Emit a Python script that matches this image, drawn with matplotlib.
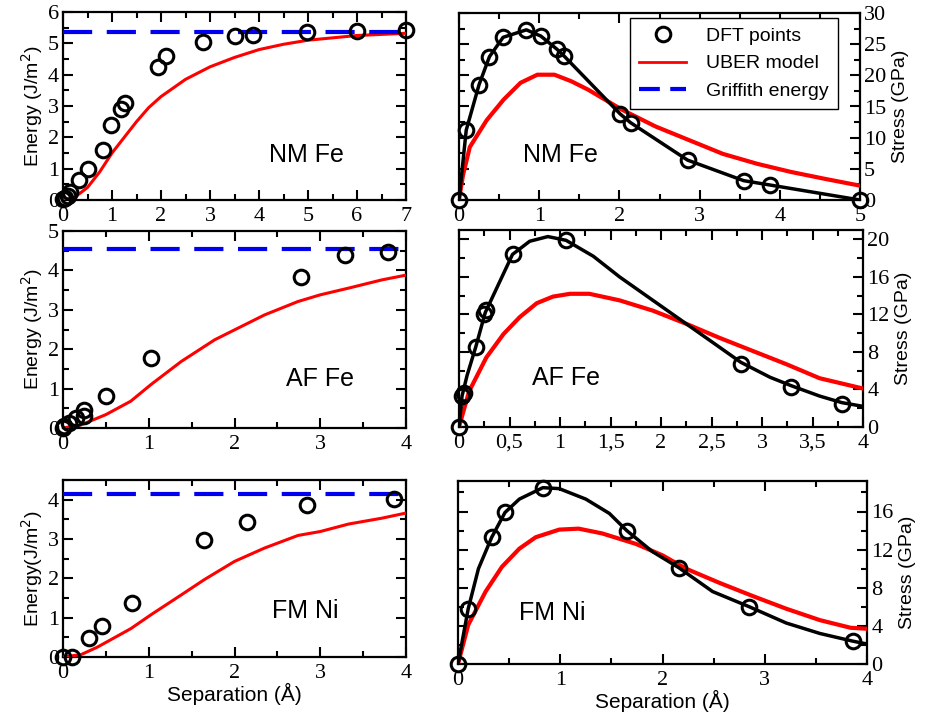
import matplotlib
matplotlib.use("Agg")
import matplotlib.pyplot as plt
from matplotlib.ticker import MultipleLocator, FuncFormatter
from matplotlib.lines import Line2D

# ---------------- data ----------------
# NM Fe
nm_e_x = [0.0, 0.05, 0.1, 0.15, 0.33, 0.5, 0.81, 0.98, 1.19, 1.26, 1.94, 2.11, 2.85, 3.51, 3.87, 4.98, 5.99, 6.99]
nm_e_y = [0.02, 0.05, 0.12, 0.25, 0.64, 1.0, 1.6, 2.4, 2.9, 3.1, 4.25, 4.6, 5.05, 5.23, 5.27, 5.35, 5.4, 5.42]
nm_uber_e_x = [0, 0.25, 0.5, 0.75, 1.0, 1.25, 1.5, 1.75, 2.0, 2.5, 3.0, 3.5, 4.0, 4.5, 5.0, 6.0, 7.0]
nm_uber_e_y = [0, 0.1, 0.4, 0.9, 1.5, 2.0, 2.5, 2.95, 3.3, 3.85, 4.25, 4.55, 4.8, 4.97, 5.1, 5.25, 5.32]
nm_griffith = 5.35
nm_s_x = [0.0, 0.09, 0.25, 0.38, 0.55, 0.84, 1.02, 1.22, 1.31, 2.01, 2.14, 2.85, 3.55, 3.88, 5.0]
nm_s_y = [0.0, 11.2, 18.5, 23.0, 26.1, 27.3, 26.3, 24.2, 23.1, 13.8, 12.4, 6.4, 3.1, 2.4, 0.0]
nm_uber_s_x = [0, 0.05, 0.135, 0.345, 0.556, 0.767, 0.977, 1.19, 1.40, 1.61, 1.82, 2.03, 2.45, 2.87, 3.29, 3.72, 4.14, 4.56, 5.0]
nm_uber_s_y = [0, 4.0, 8.5, 12.8, 16.1, 18.8, 20.1, 20.1, 19.05, 17.7, 16.1, 14.5, 11.8, 9.6, 7.4, 5.8, 4.5, 3.4, 2.3]

# AF Fe
af_e_x = [0.0, 0.01, 0.07, 0.15, 0.24, 0.24, 0.5, 1.03, 2.77, 3.29, 3.79]
af_e_y = [0.0, 0.04, 0.13, 0.25, 0.3, 0.46, 0.8, 1.77, 3.82, 4.39, 4.46]
af_uber_e_x = [0, 0.21, 0.5, 0.79, 1.03, 1.38, 1.77, 2.0, 2.35, 2.74, 3.0, 3.33, 3.72, 4.0]
af_uber_e_y = [0, 0.08, 0.34, 0.68, 1.11, 1.69, 2.24, 2.49, 2.87, 3.21, 3.38, 3.55, 3.76, 3.88]
af_griffith = 4.54
af_s_x = [0.0, 0.03, 0.05, 0.165, 0.25, 0.27, 0.53, 1.06, 2.79, 3.29, 3.79]
af_s_y = [0.0, 3.3, 3.6, 8.5, 12.0, 12.5, 18.4, 19.9, 6.7, 4.25, 2.5]
af_fit_x = [0, 0.03, 0.08, 0.165, 0.26, 0.53, 0.7, 0.88, 1.06, 1.33, 1.59, 1.92, 2.25, 2.58, 2.79, 3.08, 3.29, 3.57, 3.79, 4.0]
af_fit_y = [0, 3.3, 5.5, 8.5, 12.2, 18.4, 19.8, 20.3, 19.9, 18.2, 16.0, 13.5, 11.0, 8.5, 6.9, 5.3, 4.4, 3.3, 2.6, 2.2]
af_uber_s_x = [0, 0.1, 0.27, 0.44, 0.6, 0.77, 0.93, 1.1, 1.29, 1.59, 1.92, 2.25, 2.58, 2.91, 3.24, 3.57, 4.0]
af_uber_s_y = [0, 3.8, 7.4, 9.9, 11.7, 13.2, 13.9, 14.2, 14.2, 13.5, 12.4, 11.0, 9.5, 8.1, 6.7, 5.2, 4.1]

# FM Ni
ni_e_x = [0.0, 0.1, 0.3, 0.45, 0.81, 1.64, 2.14, 2.84, 3.86]
ni_e_y = [0.0, 0.0, 0.48, 0.78, 1.37, 2.98, 3.43, 3.86, 4.02]
ni_uber_e_x = [0, 0.21, 0.4, 0.79, 1.03, 1.38, 1.65, 2.0, 2.35, 2.74, 3.0, 3.33, 3.72, 4.0]
ni_uber_e_y = [0, 0.06, 0.25, 0.72, 1.08, 1.58, 1.97, 2.43, 2.77, 3.09, 3.19, 3.38, 3.53, 3.66]
ni_griffith = 4.14
ni_s_x = [0.0, 0.1, 0.33, 0.46, 0.83, 1.65, 2.16, 2.85, 3.86]
ni_s_y = [0.0, 5.8, 13.3, 15.9, 18.5, 14.0, 10.1, 6.0, 2.4]
ni_fit_x = [0, 0.1, 0.2, 0.33, 0.46, 0.6, 0.83, 0.99, 1.25, 1.48, 1.65, 1.9, 2.16, 2.49, 2.85, 3.21, 3.54, 3.86, 4.0]
ni_fit_y = [0, 5.8, 10.0, 13.3, 15.9, 17.3, 18.5, 18.4, 17.3, 15.8, 14.0, 11.8, 10.1, 7.6, 6.0, 4.3, 3.2, 2.4, 2.1]
ni_uber_s_x = [0, 0.1, 0.27, 0.43, 0.6, 0.76, 0.99, 1.18, 1.41, 1.74, 2.0, 2.23, 2.56, 2.89, 3.21, 3.54, 3.84, 4.0]
ni_uber_s_y = [0, 4.1, 7.6, 10.2, 12.1, 13.3, 14.1, 14.2, 13.7, 12.6, 11.4, 10.0, 8.5, 7.1, 5.8, 4.6, 3.8, 3.7]

labels = ["NM Fe", "AF Fe", "FM Ni"]
legend_labels = ["DFT points", "UBER model", "Griffith energy"]

# ---------------- style ----------------
SANS = "Liberation Sans"
SERIF = "Liberation Serif"
W, H = 927, 727
fig = plt.figure(figsize=(W / 100, H / 100), dpi=100)

def axes_px(l, t, r, b):
    return fig.add_axes([l / W, 1 - b / H, (r - l) / W, (b - t) / H])

mk = dict(marker="o", ms=10.5, mfc="none", mec="black", mew=2.2, ls="none", clip_on=False, zorder=5)

def style(ax, xmaj, xmin, ymaj, ymin, right=False, comma=False):
    ax.xaxis.set_major_locator(MultipleLocator(xmaj))
    ax.xaxis.set_minor_locator(MultipleLocator(xmin))
    ax.yaxis.set_major_locator(MultipleLocator(ymaj))
    ax.yaxis.set_minor_locator(MultipleLocator(ymin))
    ax.tick_params(which="both", direction="in", top=True, bottom=True, left=True, right=True,
                   width=1.5, labelsize=16)
    ax.tick_params(axis="x", pad=5)
    ax.tick_params(axis="y", pad=3)
    ax.tick_params(which="major", length=7)
    ax.tick_params(which="minor", length=4)
    if right:
        ax.tick_params(labelleft=False, labelright=True)
        ax.yaxis.set_label_position("right")
    fmt = lambda v, p: ("%g" % v).replace(".", ",") if comma else "%g" % v
    ax.xaxis.set_major_formatter(FuncFormatter(fmt))
    ax.yaxis.set_major_formatter(FuncFormatter(lambda v, p: "%g" % v))
    for s in ax.spines.values():
        s.set_linewidth(1.6)

def finalize_fonts(ax):
    for lab in ax.get_xticklabels() + ax.get_yticklabels():
        lab.set_fontfamily(SERIF)

# ---- Energy panels ----
e_specs = [
    ((63, 12, 406, 200), nm_e_x, nm_e_y, nm_uber_e_x, nm_uber_e_y, nm_griffith, 7, 6, 1, 0.5, 1, 0.5, "Energy (J/m$^2$)", (0.6, 0.24)),
    ((63, 231, 406, 428), af_e_x, af_e_y, af_uber_e_x, af_uber_e_y, af_griffith, 4, 5, 1, 0.5, 1, 0.5, "Energy (J/m$^2$)", (0.65, 0.25)),
    ((63, 480, 406, 657), ni_e_x, ni_e_y, ni_uber_e_x, ni_uber_e_y, ni_griffith, 4, 4.5, 1, 0.5, 1, 0.5, "Energy(J/m$^2$)", (0.61, 0.26)),
]
for i, (box, ex, ey, ux, uy, g, xmax, ymax, xmj, xmn, ymj, ymn, ylab, tpos) in enumerate(e_specs):
    ax = axes_px(*box)
    ax.plot(ux, uy, color="red", lw=2.2, zorder=3)
    ax.plot([0, xmax], [g, g], color="#0000ee", lw=3, dashes=(7, 3.5), zorder=4)
    ax.plot(ex, ey, **mk)
    ax.set_xlim(0, xmax)
    ax.set_ylim(0, ymax)
    style(ax, xmj, xmn, ymj, ymn)
    ax.set_ylabel(ylab, fontfamily=SANS, fontsize=14, labelpad=2)
    ax.text(tpos[0], tpos[1], labels[i], transform=ax.transAxes, fontfamily=SANS, fontsize=18, ha="left", va="center")
    if i == 2:
        ax.set_xlabel("Separation (Å)", fontfamily=SANS, fontsize=15, labelpad=0)
    finalize_fonts(ax)

# ---- Stress panels ----
s_specs = [
    ((459, 13, 860, 200), nm_s_x, nm_s_y, nm_s_x, nm_s_y, nm_uber_s_x, nm_uber_s_y, 5, 30, 1, 0.5, 5, 2.5, False, (0.16, 0.24)),
    ((459, 230, 863, 427), af_s_x, af_s_y, af_fit_x, af_fit_y, af_uber_s_x, af_uber_s_y, 4, 21, 0.5, 0.25, 4, 2, True, (0.18, 0.25)),
    ((458, 481, 867, 664), ni_s_x, ni_s_y, ni_fit_x, ni_fit_y, ni_uber_s_x, ni_uber_s_y, 4, 19.2, 1, 0.5, 4, 2, False, (0.15, 0.28)),
]
for i, (box, sx, sy, fx, fy, ux, uy, xmax, ymax, xmj, xmn, ymj, ymn, comma, tpos) in enumerate(s_specs):
    ax = axes_px(*box)
    ax.plot(ux, uy, color="red", lw=3, zorder=3)
    ax.plot(fx, fy, color="black", lw=2.5, zorder=4)
    ax.plot(sx, sy, **mk)
    ax.set_xlim(0, xmax)
    ax.set_ylim(0, ymax)
    style(ax, xmj, xmn, ymj, ymn, right=True, comma=comma)
    ax.set_ylabel("Stress (GPa)", fontfamily=SANS, fontsize=14, labelpad=4)
    ax.text(tpos[0], tpos[1], labels[i], transform=ax.transAxes, fontfamily=SANS, fontsize=18, ha="left", va="center")
    if i == 2:
        ax.set_xlabel("Separation (Å)", fontfamily=SANS, fontsize=15, labelpad=0)
    if i == 0:
        handles = [
            Line2D([], [], marker="o", ms=10.5, mfc="none", mec="black", mew=2.2, ls="none"),
            Line2D([], [], color="red", lw=2),
            Line2D([], [], color="#0000ee", lw=3, dashes=(5, 2.5)),
        ]
        leg = ax.legend(handles, legend_labels, loc="upper right",
                        bbox_to_anchor=(0.945, 0.975), fancybox=False, framealpha=1, edgecolor="black",
                        prop={"family": SANS, "size": 14}, handlelength=2.4, handletextpad=1.0,
                        borderpad=0.5, labelspacing=0.5, borderaxespad=0)
        leg.get_frame().set_linewidth(1.0)
    finalize_fonts(ax)

fig.savefig("out.png", dpi=100)
